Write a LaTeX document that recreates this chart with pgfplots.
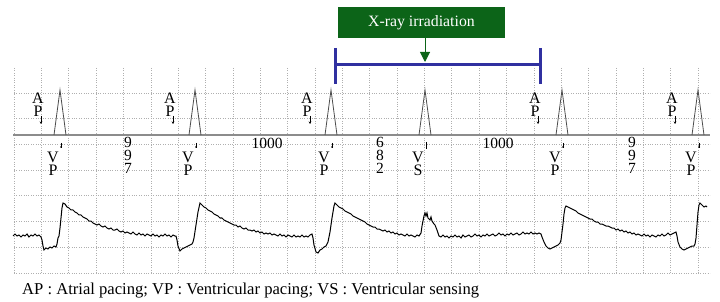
\documentclass[border=0pt]{standalone}
\usepackage{pgfplots}
\pgfplotsset{compat=1.18}
\usepackage{fontspec}
\setmainfont{Liberation Serif}
\usetikzlibrary{arrows.meta}
\definecolor{gridgray}{RGB}{175,175,175}
\definecolor{markgray}{RGB}{140,140,140}
\definecolor{bracketblue}{RGB}{48,48,160}
\definecolor{boxgreen}{RGB}{12,100,24}

\tikzset{lbl/.style={font=\fontsize{16}{16}\selectfont, inner sep=0pt,
  text height=10.4pt, text depth=0pt},
  dgt/.style={font=\fontsize{15.5}{15.5}\selectfont, inner sep=0pt,
  text height=10.4pt, text depth=0pt}}
% atrial pace: label x, arrow x
\newcommand{\AP}[2]{%
  \node[lbl] at (axis cs:#1,98) {A};
  \node[lbl] at (axis cs:#1,111) {P};
  \draw[black, line width=0.5pt, -{Stealth[length=2.5pt,width=2.5pt]}]
    (axis cs:#2,116) -- (axis cs:#2,124);}
% ventricular event: label x, marker x, second letter
\newcommand{\VE}[3]{%
  \node[lbl] at (axis cs:#1,157) {V};
  \node[lbl] at (axis cs:#1,170) {#3};
  \draw[black, line width=0.5pt] (axis cs:#2,143) -- (axis cs:#2,148);
  \fill[black] (axis cs:#2,147) circle (1pt);}
% three stacked digits
\newcommand{\IV}[4]{%
  \node[dgt] at (axis cs:#1,142) {#2};
  \node[dgt] at (axis cs:#1,155) {#3};
  \node[dgt] at (axis cs:#1,168) {#4};}

\begin{document}
\begin{tikzpicture}
\begin{axis}[
  width=696pt, height=205pt, scale only axis,
  xmin=14, xmax=710, ymin=68, ymax=273, y dir=reverse,
  clip=false,
  axis line style={draw=none}, tick style={draw=none},
  xtick={14,41.36,...,699}, ytick={93,118.7,...,274},
  xticklabel=\empty, yticklabel=\empty,
  grid=major, grid style={gridgray, dotted, line width=0.6pt},
]
% bounding box corners (pixel frame of the reference)
\coordinate (tl) at (axis cs:0,0);
\coordinate (br) at (axis cs:720,302);

% marker channel
\addplot[markgray, line width=1.4pt] coordinates {(13,135) (710,135)};
\addplot[black!70, line width=0.8pt] coordinates {(54,135) (60,90) (66,135)};
\addplot[black!70, line width=0.8pt] coordinates {(189,135) (195,90) (201,135)};
\addplot[black!70, line width=0.8pt] coordinates {(325,135) (331,90) (337,135)};
\addplot[black!70, line width=0.8pt] coordinates {(419,135) (425,90) (431,135)};
\addplot[black!70, line width=0.8pt] coordinates {(556,135) (562,90) (568,135)};
\addplot[black!70, line width=0.8pt] coordinates {(692,135) (698,90) (704,135)};

\AP{38}{41}
\AP{170}{173}
\AP{307}{310}
\AP{535}{538}
\AP{672}{675}
\VE{53}{61}{P}
\VE{188}{196}{P}
\VE{324}{332}{P}
\VE{555}{563}{P}
\VE{691}{699}{P}
\node[lbl] at (axis cs:418,157) {V};
\node[lbl] at (axis cs:418,170) {S};
\draw[black, line width=0.6pt] (axis cs:426,142) -- (axis cs:426,149);

% intervals (ms)
\IV{128}{9}{9}{7}
\IV{380}{6}{8}{2}
\IV{632}{9}{9}{7}
\node[dgt] at (axis cs:267,143) {1000};
\node[dgt] at (axis cs:498,143) {1000};

% surface ECG
\addplot[black, line width=1pt] coordinates {
(13,236)(15,234)(17,236)(19,235)(21,237)(23,235)(25,236)(27,234)(29,237)(31,235)
(33,236)(35,234)(37,236)(39,235)(41,237)
(42,240)(43,246)(44,250)(46,248)(48,249)(50,247)(52,248)(54,246)(56,247)(57,244)
(58,238)(59,236)(60,228)(61,218)(62,208)(63,203)(65,204)(67,207)(69,208)(71,210)
(73,210)(75,212)(77,213)(79,215)(81,215)(83,217)(85,218)(87,219)(89,221)(91,221)
(93,223)(95,224)(97,225)(99,224)(101,226)(103,227)(105,226)(107,228)(109,229)(111,228)
(113,230)(115,230)(117,229)(119,231)(121,232)(123,231)(125,233)(127,232)(129,233)(131,234)
(133,232)(135,234)(137,235)(139,233)(141,235)(143,234)(145,236)(147,234)(149,235)(151,236)
(153,234)(155,236)(157,235)(159,237)(161,235)(163,236)(165,234)(167,236)(169,235)(171,237)
(173,235)(175,236)(176,236)
(177,240)(178,246)(180,251)(182,249)(184,248)(186,247)(188,246)(190,245)(192,244)(193,242)
(194,238)(196,225)(198,212)(200,203)(202,205)(204,207)(206,208)(208,210)(210,211)(212,212)
(214,214)(216,215)(218,216)(220,218)(222,218)(224,220)(226,221)(228,222)(230,223)(232,224)
(234,225)(236,225)(238,227)(240,226)(242,228)(244,229)(246,228)(248,230)(250,230)(252,231)
(254,230)(256,232)(258,231)(260,233)(262,232)(264,234)(266,233)(268,234)(270,233)(272,235)
(274,234)(276,235)(278,236)(280,234)(282,236)(284,235)(286,237)(288,235)(290,236)(292,237)
(294,235)(296,237)(298,236)(300,237)(302,235)(304,237)(306,236)(308,237)(310,235)(312,234)
(313,238)(314,245)(316,252)(318,253)(320,250)(322,249)(324,247)(326,246)(327,244)(328,242)
(330,232)(332,218)(334,206)(335,203)(337,205)(339,207)(341,208)(343,209)(345,211)(347,212)
(349,213)(351,214)(353,216)(355,217)(357,218)(359,219)(361,220)(363,221)(365,222)(367,224)
(369,225)(371,226)(373,227)(375,227)(377,229)(379,229)(381,230)(383,231)(385,230)(387,232)
(389,231)(391,233)(393,232)(395,234)(397,233)(399,235)(401,234)(403,235)(405,236)(407,234)
(409,236)(411,235)(413,236)(415,237)(417,235)(419,236)(421,233)
(422,226)(424,216)(425,213)(426,216)(427,213)(428,218)(430,220)(431,217)(432,221)(434,224)
(435,225)(437,230)(439,236)(441,237)(443,235)(445,237)(447,236)(449,238)(451,236)(453,237)
(455,235)(457,237)(459,236)(461,238)(463,235)(465,237)(467,236)(469,235)(471,237)(473,236)
(475,234)(477,236)(479,235)(481,237)(483,235)(485,236)(487,234)(489,236)(491,235)(493,234)
(495,236)(497,235)(499,233)(501,235)(503,234)(505,236)(507,234)(509,235)(511,233)(513,235)
(515,234)(517,233)(519,235)(521,234)(523,232)(525,234)(527,233)(529,234)(531,232)(533,234)
(535,233)(537,234)(539,233)(541,234)
(542,237)(544,242)(546,246)(548,248)(550,249)(552,248)(554,247)(556,246)(558,245)(560,243)
(561,240)(562,232)(563,224)(564,214)(565,208)(566,206)(568,207)(570,208)(572,209)(574,210)
(576,211)(578,213)(580,214)(582,215)(584,216)(586,217)(588,218)(590,219)(592,219)(594,221)
(596,222)(598,222)(600,224)(602,224)(604,225)(606,226)(608,226)(610,227)(612,228)(614,228)
(616,230)(618,229)(620,231)(622,230)(624,232)(626,231)(628,233)(630,232)(632,234)(634,233)
(636,235)(638,234)(640,235)(642,236)(644,234)(646,236)(648,235)(650,237)(652,235)(654,236)
(656,237)(658,235)(660,236)(662,234)(664,236)(666,235)(668,233)(670,235)(672,234)(674,233)
(676,232)
(677,236)(678,242)(680,247)(682,249)(684,250)(686,249)(688,248)(690,247)(692,246)(694,246)
(695,244)(696,238)(697,225)(698,212)(699,205)(700,203)(702,205)(704,207)(706,206)(707,207)
};

% X-ray bracket and box
\draw[bracketblue, line width=3pt] (axis cs:335,65) -- (axis cs:540,65);
\draw[bracketblue, line width=3pt] (axis cs:335,48) -- (axis cs:335,84);
\draw[bracketblue, line width=3pt] (axis cs:540,48) -- (axis cs:540,84);
\fill[boxgreen] (axis cs:338,7) rectangle (axis cs:505,38);
\node[white, font=\fontsize{15.8}{15.8}\selectfont, inner sep=0pt] at (axis cs:421.5,22.5) {X-ray irradiation};
\draw[boxgreen, line width=1pt, -{Triangle[length=10pt,width=10pt]}]
  (axis cs:425,38) -- (axis cs:425,62);

% key
\node[anchor=west, font=\fontsize{16.6}{16.6}\selectfont, inner sep=0pt] at (axis cs:22,291)
  {AP : Atrial pacing; VP : Ventricular pacing; VS : Ventricular sensing};
\end{axis}
\pgfresetboundingbox
\path (tl) rectangle (br);
\end{tikzpicture}
\end{document}
